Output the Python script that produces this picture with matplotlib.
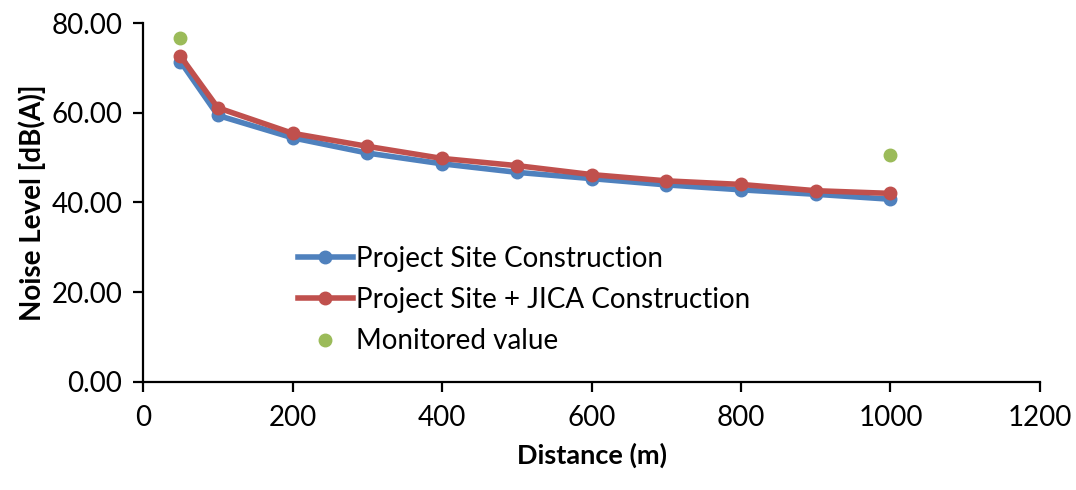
import matplotlib
matplotlib.use("Agg")
import matplotlib.pyplot as plt

# distances (m) and noise levels
distance = [50, 100, 200, 300, 400, 500, 600, 700, 800, 900, 1000]
project_site = [71.4, 59.4, 54.4, 51.0, 48.6, 46.7, 45.3, 43.9, 42.8, 41.8, 40.7]
project_jica = [72.6, 61.1, 55.4, 52.5, 49.8, 48.2, 46.2, 44.8, 44.0, 42.6, 42.0]

monitored_x = [50, 1000]
monitored_y = [76.6, 50.6]

x_ticks = [0, 200, 400, 600, 800, 1000, 1200]
y_ticks = [0, 20, 40, 60, 80]

plt.rcParams['font.family'] = ['Lato', 'DejaVu Sans']

fig = plt.figure(figsize=(10.76, 4.9), dpi=100)
ax = fig.add_axes([0.133, 0.221, 0.8335, 0.732])

ax.plot(distance, project_site, color='#4F81BD', lw=4, marker='o', ms=9,
        label='Project Site Construction', zorder=3)
ax.plot(distance, project_jica, color='#C0504D', lw=4, marker='o', ms=9,
        label='Project Site + JICA Construction', zorder=4)
ax.plot(monitored_x, monitored_y, ls='none', color='#9BBB59', marker='o', ms=9,
        label='Monitored value', zorder=5)

ax.set_xlim(0, 1200)
ax.set_ylim(0, 80)
ax.set_xticks(x_ticks)
ax.set_yticks(y_ticks)
ax.set_yticklabels([f"{v:.2f}" for v in y_ticks])
ax.tick_params(axis='both', labelsize=20, width=1.6, length=7, direction='out')
ax.tick_params(axis='x', pad=10)
ax.tick_params(axis='y', pad=8)

for side in ['top', 'right']:
    ax.spines[side].set_visible(False)
for side in ['left', 'bottom']:
    ax.spines[side].set_linewidth(1.6)

ax.set_xlabel('Distance (m)', fontsize=19.5, fontweight='bold', labelpad=8)
ax.set_ylabel('Noise Level [dB(A)]', fontsize=20, fontweight='bold', labelpad=4)

ax.legend(loc='upper left', bbox_to_anchor=(0.16, 0.41), frameon=False,
          fontsize=20, handlelength=2.0, handletextpad=0.1, labelspacing=0.55,
          borderaxespad=0)

fig.savefig('out.png', dpi=100)
